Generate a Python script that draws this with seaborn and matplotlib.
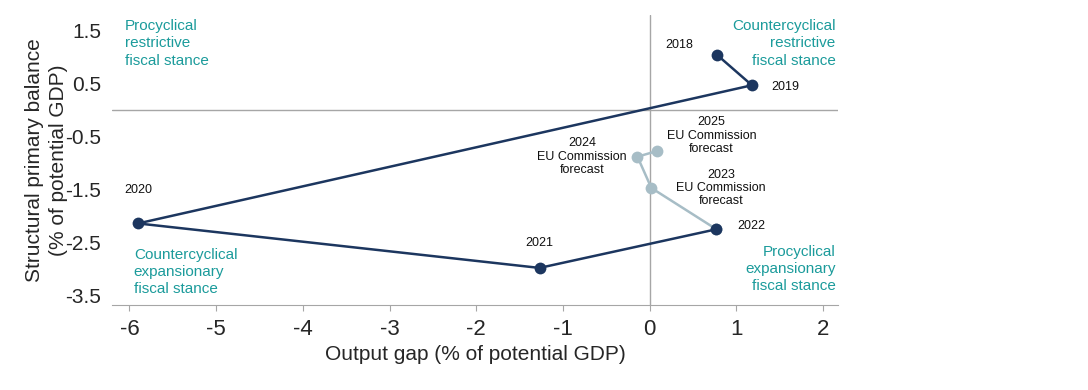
import pandas as pd
import seaborn as sns
import matplotlib.pyplot as plt

# chart values
years_hist = ["2018", "2019", "2020", "2021", "2022"]
gap_hist = [0.78, 1.18, -5.90, -1.27, 0.77]
balance_hist = [1.04, 0.47, -2.14, -2.98, -2.25]

years_fc = ["2022", "2023", "2024", "2025"]
gap_fc = [0.77, 0.02, -0.14, 0.09]
balance_fc = [-2.25, -1.47, -0.88, -0.77]

fc_note = "EU Commission\nforecast"

x_ticks = [-6, -5, -4, -3, -2, -1, 0, 1, 2]
y_ticks = [1.5, 0.5, -0.5, -1.5, -2.5, -3.5]

NAVY = "#1c365f"
LIGHT = "#a7bdc6"
TEAL = "#1b9b9b"
GREY = "#a6a6a6"


def main():
    sns.set_style("white")
    plt.rcParams["font.family"] = ["Liberation Sans", "DejaVu Sans"]

    hist = pd.DataFrame({"year": years_hist, "gap": gap_hist, "bal": balance_hist})
    fc = pd.DataFrame({"year": years_fc, "gap": gap_fc, "bal": balance_fc})

    fig = plt.figure(figsize=(10.88, 3.9), dpi=100)
    ax = fig.add_axes([0.103, 0.218, 0.667, 0.744])

    ax.axhline(0, color=GREY, lw=1, zorder=1)
    ax.axvline(0, color=GREY, lw=1, zorder=1)

    # forecast path first so the 2022 navy dot sits on top
    sns.lineplot(data=fc, x="gap", y="bal", sort=False, color=LIGHT, lw=1.8,
                 marker="o", markersize=8.5, markeredgewidth=0, ax=ax, zorder=2)
    sns.lineplot(data=hist, x="gap", y="bal", sort=False, color=NAVY, lw=1.8,
                 marker="o", markersize=8.5, markeredgewidth=0, ax=ax, zorder=3)

    lab = dict(fontsize=9, color="#111111", textcoords="offset points",
               ha="center", va="center")
    offsets = {"2018": (-27, 7), "2019": (24, -1.5), "2020": (0, 24),
               "2021": (0, 18), "2022": (25, 2)}
    for _, r in hist.iterrows():
        ax.annotate(r["year"], (r["gap"], r["bal"]), xytext=offsets[r["year"]], **lab)
    fc_offsets = {"2023": (50, 0), "2024": (-40, 0), "2025": (39, 11)}
    for _, r in fc.iterrows():
        if r["year"] in fc_offsets:
            ax.annotate(r["year"] + "\n" + fc_note, (r["gap"], r["bal"]),
                        xytext=fc_offsets[r["year"]], linespacing=1.15, **lab)

    quad = dict(fontsize=11, color=TEAL, transform=ax.transAxes, linespacing=1.3)
    ax.text(0.018, 0.985, "Procyclical\nrestrictive\nfiscal stance", ha="left", va="top", **quad)
    ax.text(0.997, 0.985, "Countercyclical\nrestrictive\nfiscal stance", ha="right", va="top", **quad)
    ax.text(0.03, 0.03, "Countercyclical\nexpansionary\nfiscal stance", ha="left", va="bottom", **quad)
    ax.text(0.997, 0.04, "Procyclical\nexpansionary\nfiscal stance", ha="right", va="bottom", **quad)

    ax.set_xlim(-6.2, 2.17)
    ax.set_ylim(-3.68, 1.8)
    ax.set_xticks(x_ticks)
    ax.set_xticklabels([str(t) for t in x_ticks])
    ax.set_yticks(y_ticks)
    ax.set_yticklabels([f"{t:.1f}" for t in y_ticks])
    ax.tick_params(axis="x", labelsize=16, length=4, color=GREY, direction="out", pad=6)
    ax.tick_params(axis="y", labelsize=15, length=0, pad=8)
    ax.xaxis.set_ticks_position("bottom")

    for side in ["top", "right", "left"]:
        ax.spines[side].set_visible(False)
    ax.spines["bottom"].set_color(GREY)

    ax.set_xlabel("Output gap (% of potential GDP)", fontsize=15, labelpad=4)
    ax.set_ylabel("Structural primary balance\n(% of potential GDP)", fontsize=15,
                  labelpad=-2, linespacing=1.3)

    fig.savefig("out.png", dpi=100)


if __name__ == "__main__":
    main()
